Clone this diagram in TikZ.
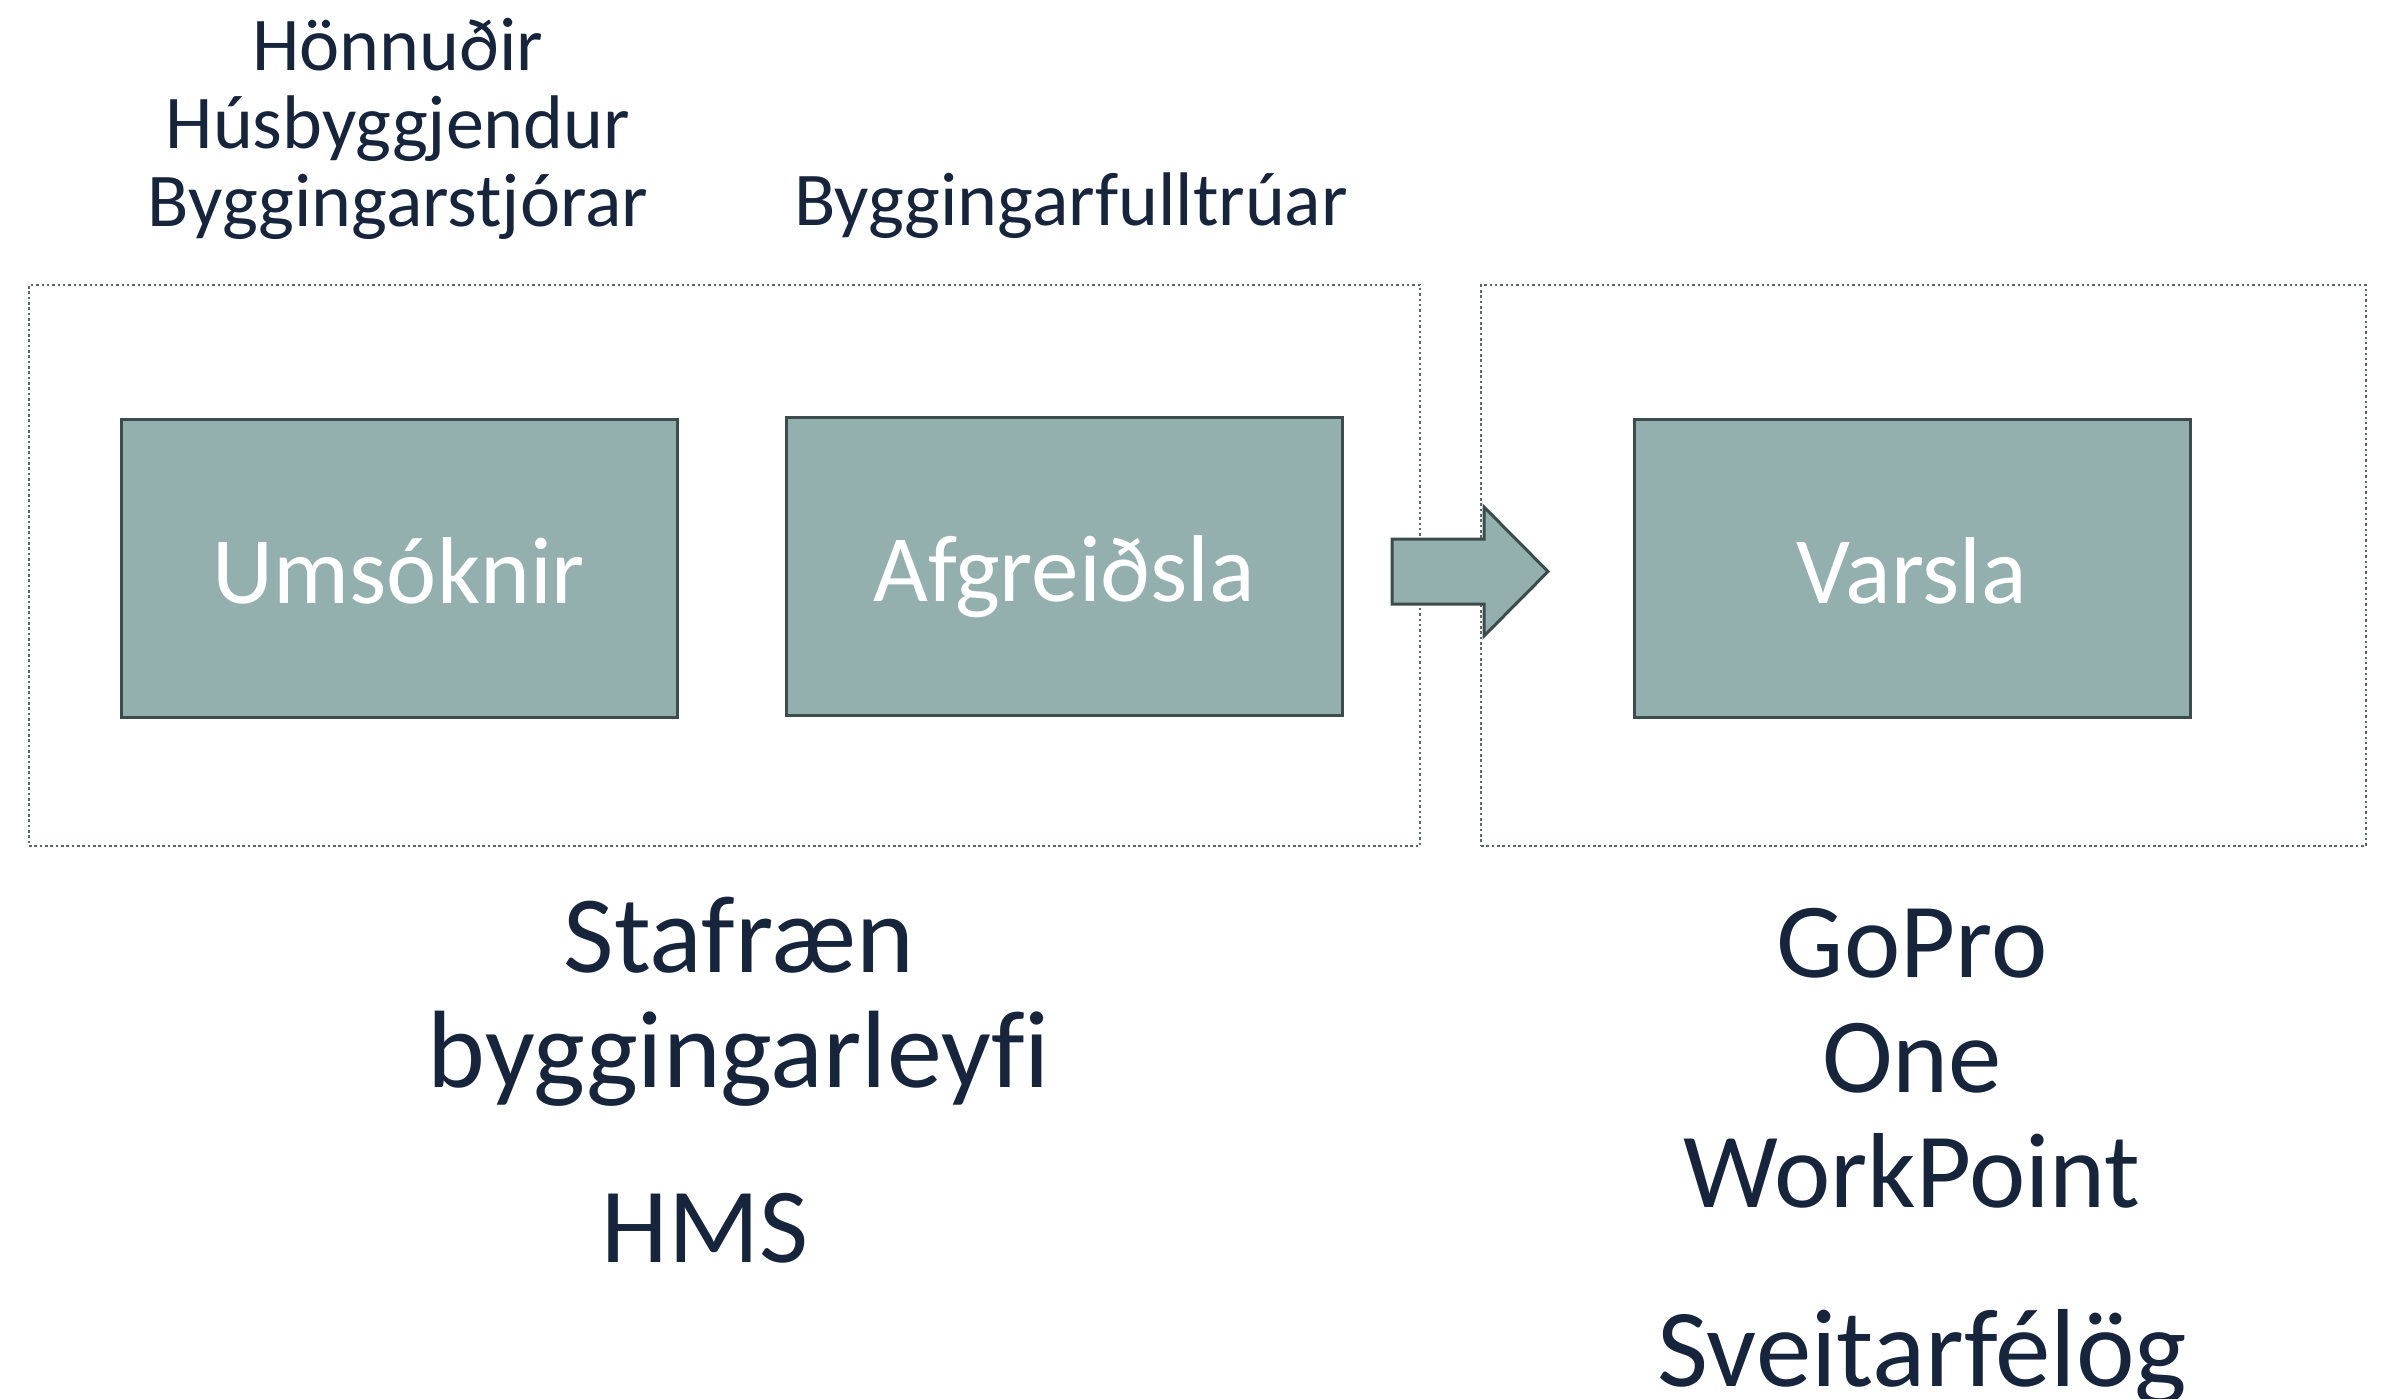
\documentclass[tikz,border=0pt]{standalone}
\usepackage{fontspec}
\setmainfont[Ligatures=NoCommon]{Carlito}
\usetikzlibrary{positioning}
\definecolor{boxfill}{HTML}{93B0AF}
\definecolor{boxline}{HTML}{3C4B4B}
\definecolor{dotline}{HTML}{5B6666}
\definecolor{navy}{HTML}{16243C}
\tikzset{
  procbox/.style={draw=boxline, line width=0.9pt, fill=boxfill, text=white,
    minimum width=166.8pt, minimum height=89.4pt, inner sep=0pt,
    text height=21pt, text depth=0pt,
    font=\fontsize{28.5}{34}\selectfont},
  groupbox/.style={draw=dotline, line width=0.75pt, dash pattern=on 0.75pt off 0.85pt, inner sep=0pt},
  smalllbl/.style={text=navy, align=center, inner sep=0pt, font=\fontsize{22.8}{23.4}\selectfont},
  biglbl/.style={text=navy, align=center, inner sep=0pt, font=\fontsize{32}{34.5}\selectfont},
  blockarrow/.style={draw=boxline, line width=0.9pt, fill=boxfill, line join=miter}
}
\begin{document}
\begin{tikzpicture}[x=0.3pt,y=-0.3pt]
\useasboundingbox (0,0) rectangle (2381,1398);
\clip (0,0) rectangle (2381,1398);
% group frames
\node[groupbox, minimum width=417.3pt, minimum height=168.3pt] (g1) at (724.5,565.5) {};
\node[groupbox, minimum width=265.5pt, minimum height=168.3pt] (g2) at (1923.5,565.5) {};
% process boxes
\node[procbox] (ums) at (399,568) {Umsóknir};
\node[procbox] (afg) at (1064.5,566.5) {Afgreiðsla};
\node[procbox] (var) at (1912,568) {Varsla};
% block arrow
\draw[blockarrow] (1392,539) -- (1484,539) -- (1484,507) -- (1548,571.5) -- (1484,636) -- (1484,604) -- (1392,604) -- cycle;
% labels
\node[smalllbl] (roles) at (398,129) {Hönnuðir\\Húsbyggjendur\\Byggingarstjórar};
\node[smalllbl] (bf) at (1071,206) {Byggingarfulltrúar};
\node[biglbl, font=\fontsize{33}{34.5}\selectfont] (sb) at (739,1002) {Stafræn\\byggingarleyfi};
\node[biglbl] (hms) at (705,1228) {HMS};
\node[biglbl] (sys) at (1912,1058) {GoPro\\One\\WorkPoint};
\node[biglbl, font=\fontsize{33.3}{34.5}\selectfont, anchor=base] (sv) at (1922,1386) {Sveitarfélög};
\end{tikzpicture}
\end{document}
